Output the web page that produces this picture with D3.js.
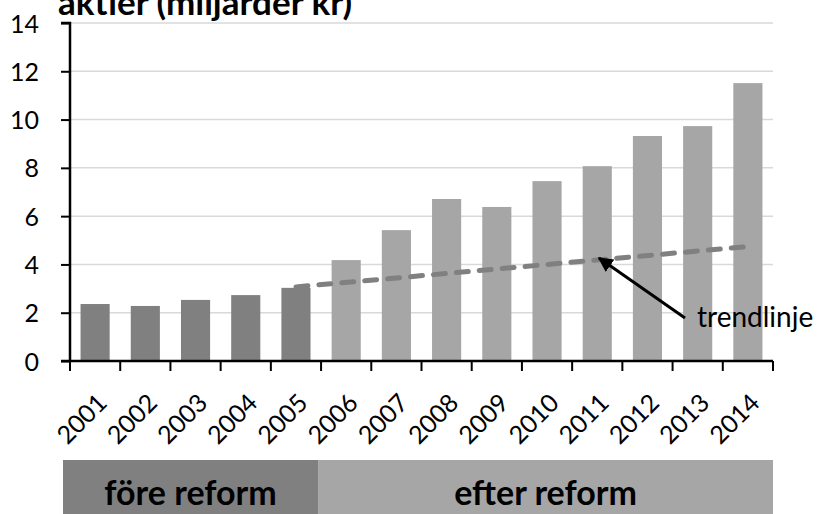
<!DOCTYPE html>
<html>
<head>
<meta charset="utf-8">
<script src="https://cdn.jsdelivr.net/npm/d3@7"></script>
<style>
  body { margin: 0; background: #fff; }
  svg { display: block; font-family: Lato, "Open Sans", sans-serif; }
</style>
</head>
<body>
<div id="chart"></div>
<script>
// data
let years = ['2001','2002','2003','2004','2005','2006','2007','2008','2009','2010','2011','2012','2013','2014'];
let values = [2.36, 2.28, 2.53, 2.73, 3.03, 4.18, 5.42, 6.71, 6.38, 7.45, 8.07, 9.32, 9.73, 11.51];
let reformYear = '2006';
let yTicks = [0, 2, 4, 6, 8, 10, 12, 14];
let trendYears = ['2005', '2014'];
let trendValues = [3.07, 4.74];
let periods = ['före reform', 'efter reform'];
let title = 'aktier (miljarder kr)';

let config = { svg: {}, plot: {} };
config.svg.width = 824;
config.svg.height = 514;
config.plot.left = 70;
config.plot.right = 773;
config.plot.top = 23;
config.plot.bottom = 361;

let svg = d3.select('#chart').append('svg')
  .attr('width', config.svg.width)
  .attr('height', config.svg.height);

let x = d3.scaleBand()
  .domain(years)
  .range([config.plot.left, config.plot.right])
  .paddingInner(0.42)
  .paddingOuter(0.21);

let y = d3.scaleLinear()
  .domain([0, 14])
  .range([config.plot.bottom, config.plot.top]);

let dark = '#808080', light = '#a6a6a6';
let isBefore = d => years.indexOf(d) < years.indexOf(reformYear);

// gridlines
svg.append('g')
  .selectAll('line')
  .data(yTicks.filter(d => d > 0))
  .enter().append('line')
  .attr('x1', config.plot.left).attr('x2', config.plot.right)
  .attr('y1', d => y(d)).attr('y2', d => y(d))
  .style('stroke', '#d9d9d9').style('stroke-width', 1.5);

// bars
svg.append('g')
  .selectAll('rect')
  .data(years)
  .enter().append('rect')
  .attr('x', d => x(d))
  .attr('width', x.bandwidth())
  .attr('y', (d, i) => y(values[i]))
  .attr('height', (d, i) => y(0) - y(values[i]))
  .style('fill', d => isBefore(d) ? dark : light);

// trend line
let centre = d => x(d) + x.bandwidth() / 2;
svg.append('path')
  .datum(trendYears.map((d, i) => [centre(d), y(trendValues[i])]))
  .attr('d', d3.line())
  .style('fill', 'none')
  .style('stroke', dark)
  .style('stroke-width', 5)
  .style('stroke-linecap', 'round')
  .style('stroke-dasharray', '12 11');

// y axis
let yAxis = svg.append('g')
  .attr('transform', 'translate(' + config.plot.left + ',0)')
  .call(d3.axisLeft(y).tickValues(yTicks).tickSize(9).tickPadding(22));
yAxis.select('.domain').attr('d', 'M-9,' + y(14) + 'H0V' + y(0)).style('stroke-width', 2.5);
yAxis.selectAll('.tick line').style('stroke-width', 2);
yAxis.selectAll('text')
  .style('font-size', '25px')
  .style('font-family', 'Lato, "Open Sans", sans-serif')
  .attr('dy', '0.36em');

// x axis with ticks between categories
let step = x.step();
let bounds = years.map(d => x(d) - step * x.paddingOuter());
bounds.push(config.plot.right);
let xAxis = svg.append('g');
xAxis.append('line')
  .attr('x1', config.plot.left - 9).attr('x2', config.plot.right)
  .attr('y1', y(0)).attr('y2', y(0))
  .style('stroke', '#000').style('stroke-width', 2.5);
xAxis.selectAll('.xt')
  .data(bounds)
  .enter().append('line')
  .attr('class', 'xt')
  .attr('x1', d => d).attr('x2', d => d)
  .attr('y1', y(0)).attr('y2', y(0) + 10)
  .style('stroke', '#000').style('stroke-width', 2);
xAxis.selectAll('text')
  .data(years)
  .enter().append('text')
  .attr('transform', d => 'translate(' + (centre(d) + 7) + ',' + (y(0) + 37) + ') rotate(-45)')
  .attr('text-anchor', 'end')
  .attr('dy', '0.36em')
  .style('font-size', '25px')
  .text(d => d);

// arrow annotation
svg.append('defs').append('marker')
  .attr('id', 'arrow')
  .attr('viewBox', '0 0 10 10')
  .attr('refX', 9).attr('refY', 5)
  .attr('markerWidth', 5).attr('markerHeight', 5)
  .attr('orient', 'auto')
  .append('path').attr('d', 'M0,0L10,5L0,10Z').style('fill', '#000');
svg.append('line')
  .attr('x1', 685).attr('y1', 318)
  .attr('x2', 599).attr('y2', 258)
  .style('stroke', '#000').style('stroke-width', 3)
  .attr('marker-end', 'url(#arrow)');
svg.append('text')
  .attr('x', 697).attr('y', 327)
  .style('font-size', '28px')
  .text('trendlinje');

// period bands
let split = x(reformYear) - step * x.paddingOuter() - 3;
let bandEdges = [[config.plot.left - 7, split], [split, config.plot.right]];
let bands = svg.append('g');
bands.selectAll('rect')
  .data(periods)
  .enter().append('rect')
  .attr('x', (d, i) => bandEdges[i][0])
  .attr('width', (d, i) => bandEdges[i][1] - bandEdges[i][0])
  .attr('y', 460).attr('height', 54)
  .style('fill', (d, i) => i === 0 ? dark : light);
bands.selectAll('text')
  .data(periods)
  .enter().append('text')
  .attr('x', (d, i) => (bandEdges[i][0] + bandEdges[i][1]) / 2)
  .attr('y', 505)
  .attr('text-anchor', 'middle')
  .style('font-size', '34px')
  .style('font-weight', 'bold')
  .text(d => d);

// title (cut off at top as in original)
svg.append('text')
  .attr('x', 58).attr('y', 15)
  .style('font-size', '35px')
  .style('font-weight', 'bold')
  .text(title);
</script>
</body>
</html>
